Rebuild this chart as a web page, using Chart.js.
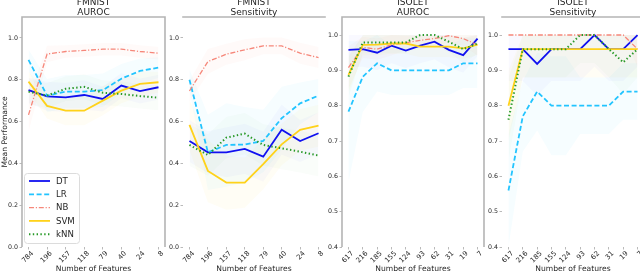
<!DOCTYPE html>
<html><head><meta charset="utf-8">
<script src="https://cdn.jsdelivr.net/npm/chart.js@4"></script>
<style>
html,body{margin:0;padding:0;background:#fff;width:640px;height:274px;overflow:hidden;position:relative}
canvas{position:absolute;top:0}
</style></head><body>
<canvas id="c1"></canvas><canvas id="c2"></canvas><canvas id="c3"></canvas><canvas id="c4"></canvas>
<script>
// ---------- data ----------
const fmnistFeatures = ['784','196','157','118','79','40','24','8'];
const isoletFeatures = ['617','216','185','155','124','93','62','31','19','7'];
const models = ['DT','LR','NB','SVM','kNN'];
const yTicksFull = [0.0,0.2,0.4,0.6,0.8,1.0];
const yTicksIsolet = [0.4,0.5,0.6,0.7,0.8,0.9,1.0];

// FMNIST AUROC (means)
const fmAurocDT  = [0.750,0.720,0.716,0.727,0.708,0.772,0.746,0.764];
const fmAurocLR  = [0.895,0.724,0.743,0.743,0.750,0.805,0.842,0.858];
const fmAurocNB  = [0.632,0.923,0.935,0.940,0.946,0.946,0.935,0.927];
const fmAurocSVM = [0.791,0.675,0.652,0.652,0.700,0.748,0.780,0.788];
const fmAurocKNN = [0.743,0.724,0.757,0.766,0.738,0.732,0.722,0.714];
// FMNIST AUROC (std)
const fmAurocDTsd  = [0.06,0.07,0.07,0.07,0.06,0.06,0.06,0.06];
const fmAurocLRsd  = [0.05,0.08,0.08,0.08,0.08,0.07,0.06,0.05];
const fmAurocNBsd  = [0.08,0.04,0.03,0.03,0.03,0.03,0.03,0.03];
const fmAurocSVMsd = [0.05,0.06,0.07,0.07,0.07,0.06,0.06,0.05];
const fmAurocKNNsd = [0.06,0.06,0.06,0.06,0.06,0.06,0.06,0.06];

// FMNIST Sensitivity (means)
const fmSensDT  = [0.507,0.453,0.453,0.469,0.432,0.561,0.507,0.544];
const fmSensLR  = [0.800,0.453,0.488,0.490,0.507,0.616,0.687,0.724];
const fmSensNB  = [0.746,0.887,0.922,0.943,0.962,0.962,0.927,0.906];
const fmSensSVM = [0.584,0.364,0.308,0.308,0.396,0.491,0.560,0.580];
const fmSensKNN = [0.488,0.440,0.523,0.542,0.488,0.472,0.456,0.437];
// FMNIST Sensitivity (std)
const fmSensDTsd  = [0.10,0.10,0.12,0.12,0.12,0.12,0.10,0.10];
const fmSensLRsd  = [0.05,0.18,0.20,0.18,0.15,0.15,0.10,0.08];
const fmSensNBsd  = [0.05,0.06,0.05,0.05,0.04,0.04,0.05,0.05];
const fmSensSVMsd = [0.12,0.15,0.13,0.12,0.12,0.10,0.10,0.10];
const fmSensKNNsd = [0.10,0.10,0.10,0.10,0.10,0.10,0.10,0.10];

// ISOLET AUROC (means)
const isAurocDT  = [0.958,0.960,0.950,0.970,0.956,0.970,0.981,0.958,0.943,0.990];
const isAurocLR  = [0.783,0.882,0.920,0.900,0.900,0.900,0.900,0.900,0.920,0.920];
const isAurocNB  = [0.908,0.965,0.960,0.972,0.978,0.985,0.990,0.998,0.990,0.972];
const isAurocSVM = [0.887,0.972,0.973,0.976,0.976,0.967,0.967,0.967,0.962,0.973];
const isAurocKNN = [0.882,0.979,0.979,0.979,0.979,1.000,1.000,0.981,0.960,0.976];
// ISOLET AUROC (std)
const isAurocDTsd  = [0.05,0.05,0.05,0.05,0.05,0.05,0.05,0.05,0.05,0.05];
const isAurocLRsd  = [0.20,0.10,0.08,0.07,0.07,0.07,0.07,0.07,0.07,0.07];
const isAurocNBsd  = [0.06,0.03,0.03,0.03,0.02,0.02,0.02,0.02,0.02,0.03];
const isAurocSVMsd = [0.05,0.03,0.03,0.03,0.03,0.03,0.03,0.03,0.03,0.03];
const isAurocKNNsd = [0.06,0.03,0.03,0.03,0.03,0.03,0.03,0.03,0.04,0.03];

// ISOLET Sensitivity (means)
const isSensDT  = [0.960,0.960,0.918,0.960,0.960,0.960,1.000,0.960,0.960,1.000];
const isSensLR  = [0.560,0.770,0.840,0.800,0.800,0.800,0.800,0.800,0.840,0.840];
const isSensNB  = [1.000,1.000,1.000,1.000,1.000,1.000,1.000,1.000,1.000,0.960];
const isSensSVM = [0.800,0.960,0.960,0.960,0.960,0.960,0.960,0.960,0.960,0.960];
const isSensKNN = [0.760,0.960,0.960,0.960,0.960,1.000,1.000,0.960,0.923,0.960];
// ISOLET Sensitivity (std)
const isSensDTsd  = [0.09,0.09,0.09,0.09,0.09,0.09,0.09,0.09,0.09,0.09];
const isSensLRsd  = [0.16,0.10,0.11,0.14,0.14,0.08,0.08,0.08,0.08,0.08];
const isSensNBsd  = [0.00,0.00,0.00,0.00,0.00,0.00,0.00,0.00,0.00,0.05];
const isSensSVMsd = [0.10,0.08,0.08,0.08,0.08,0.08,0.08,0.08,0.08,0.08];
const isSensKNNsd = [0.12,0.08,0.08,0.08,0.08,0.08,0.08,0.08,0.09,0.08];

// ---------- styles ----------
const STYLE = [
  {color:'#1010f0', band:'rgba(16,16,240,0.025)',  dash:[],            width:1.8},
  {color:'#22c4ff', band:'rgba(34,196,255,0.04)', dash:[5,2.6],       width:1.8},
  {color:'#f6877a', band:'rgba(246,135,122,0.045)',dash:[5,1.8,1.2,1.8],width:1.3},
  {color:'#ffd21a', band:'rgba(255,210,26,0.045)', dash:[],            width:1.8},
  {color:'#279927', band:'rgba(39,153,39,0.025)',  dash:[1.4,2.4],     width:2.0}
];
const FONT = '"DejaVu Sans", "Liberation Sans", sans-serif';
const TXT = '#262626';

function buildDatasets(means, stds, cap) {
  const ds = [];
  models.forEach((m, k) => {
    ds.push({label: m + ' lo', band: true, data: means[k].map((v, i) => ({x: i, y: v - stds[k][i]})),
      borderColor: 'rgba(0,0,0,0)', borderWidth: 0, pointRadius: 0, fill: false, order: 20});
    ds.push({label: m + ' hi', band: true, data: means[k].map((v, i) => ({x: i, y: Math.min(cap, v + stds[k][i])})),
      borderColor: 'rgba(0,0,0,0)', borderWidth: 0, pointRadius: 0, fill: '-1', backgroundColor: STYLE[k].band, order: 20});
  });
  models.forEach((m, k) => {
    ds.push({label: m, data: means[k].map((v, i) => ({x: i, y: v})),
      borderColor: STYLE[k].color, borderDash: STYLE[k].dash, borderWidth: STYLE[k].width,
      borderCapStyle: 'butt', pointRadius: 0, fill: false, tension: 0, order: 10 - k});
  });
  return ds;
}

const decor = {
  id: 'decor',
  afterDraw(chart, args, o) {
    const {ctx, chartArea: a} = chart;
    ctx.save();
    ctx.strokeStyle = '#b4b4b4'; ctx.lineWidth = 1.6;
    ctx.beginPath();
    if (o.top)   { ctx.moveTo(a.left - 0.8, a.top); ctx.lineTo(a.right + 0.8, a.top); }
    if (o.left)  { ctx.moveTo(a.left, a.top); ctx.lineTo(a.left, a.bottom); }
    if (o.right) { ctx.moveTo(a.right, a.top); ctx.lineTo(a.right, a.bottom); }
    ctx.stroke();
    ctx.fillStyle = TXT; ctx.font = '9px ' + FONT; ctx.textAlign = 'center'; ctx.textBaseline = 'middle';
    const cx = (a.left + a.right) / 2;
    ctx.fillText(o.title[0], cx, a.top - 14.5);
    ctx.fillText(o.title[1], cx, a.top - 4);
    if (o.legend) {
      const x0 = a.left + 2, y0 = a.bottom - 74, w = 55, h = 70;
      ctx.fillStyle = 'rgba(255,255,255,0.85)'; ctx.strokeStyle = '#dcdcdc'; ctx.lineWidth = 1;
      ctx.beginPath(); ctx.roundRect(x0 + 0.5, y0 + 0.5, w, h, 3); ctx.fill(); ctx.stroke();
      const items = chart.data.datasets.filter(d => !d.band);
      items.forEach((d, i) => {
        const y = y0 + 8 + i * 13.3;
        ctx.strokeStyle = d.borderColor; ctx.lineWidth = d.borderWidth; ctx.setLineDash(d.borderDash);
        ctx.beginPath(); ctx.moveTo(x0 + 5, y); ctx.lineTo(x0 + 26, y); ctx.stroke();
        ctx.setLineDash([]);
        ctx.fillStyle = TXT; ctx.font = '8.6px ' + FONT; ctx.textAlign = 'left'; ctx.textBaseline = 'middle';
        ctx.fillText(d.label, x0 + 32, y + 0.5);
      });
    }
    ctx.restore();
  }
};

function makePanel(id, left, yw, plotW, cats, means, stds, cap, yMin, yMax, yTicks, cfg) {
  const cv = document.getElementById(id);
  const rp = 4;
  cv.width = yw + plotW + rp; cv.height = 274;
  cv.style.left = (left - yw) + 'px';
  const n = cats.length;
  const pad = (n - 1) * 0.05;
  return new Chart(cv, {
    type: 'line',
    data: {datasets: buildDatasets(means, stds, cap)},
    options: {
      responsive: false, animation: false, devicePixelRatio: 1,
      layout: {padding: {top: 17, right: rp, left: 0, bottom: 0}, autoPadding: false},
      plugins: {legend: {display: false}, tooltip: {enabled: false}, title: {display: false}, decor: cfg},
      scales: {
        x: {type: 'linear', min: -pad, max: n - 1 + pad,
          afterBuildTicks: s => { s.ticks = cats.map((_, i) => ({value: i})); },
          afterFit: s => { s.height = 27; },
          ticks: {autoSkip: false, minRotation: 45, maxRotation: 45, padding: 0, labelOffset: 4,
            color: TXT, font: {size: 6.9, family: FONT}, callback: v => cats[v]},
          grid: {display: true, drawOnChartArea: false, drawTicks: true, tickLength: 2.5, color: '#a8a8a8', lineWidth: 0.8},
          border: {display: false},
          title: {display: true, text: 'Number of Features', color: TXT, font: {size: 7.6, family: FONT}, padding: {top: 0, bottom: 0}}
        },
        y: {type: 'linear', min: yMin, max: yMax,
          afterBuildTicks: s => { s.ticks = yTicks.map(v => ({value: v})); },
          afterFit: s => { s.width = yw; },
          ticks: {padding: 1.5, color: TXT, font: {size: 6.3, family: FONT}, callback: v => v.toFixed(1)},
          grid: {display: true, drawOnChartArea: false, drawTicks: true, tickLength: 2.5, color: '#a8a8a8', lineWidth: 0.8},
          border: {display: false},
          title: {display: !!cfg.ylabel, text: cfg.ylabel || '', color: TXT, font: {size: 7.6, family: FONT}, padding: {top: 0, bottom: 0}}
        }
      }
    },
    plugins: [decor]
  });
}

makePanel('c1', 22, 22, 143, fmnistFeatures,
  [fmAurocDT, fmAurocLR, fmAurocNB, fmAurocSVM, fmAurocKNN],
  [fmAurocDTsd, fmAurocLRsd, fmAurocNBsd, fmAurocSVMsd, fmAurocKNNsd], 1.5,
  0, 1.1, yTicksFull, {title: ['FMNIST', 'AUROC'], top: true, left: true, right: true, legend: true, ylabel: 'Mean Performance'});
makePanel('c2', 183, 20, 142, fmnistFeatures,
  [fmSensDT, fmSensLR, fmSensNB, fmSensSVM, fmSensKNN],
  [fmSensDTsd, fmSensLRsd, fmSensNBsd, fmSensSVMsd, fmSensKNNsd], 1.5,
  0, 1.1, yTicksFull, {title: ['FMNIST', 'Sensitivity'], top: true});
makePanel('c3', 342, 20, 142, isoletFeatures,
  [isAurocDT, isAurocLR, isAurocNB, isAurocSVM, isAurocKNN],
  [isAurocDTsd, isAurocLRsd, isAurocNBsd, isAurocSVMsd, isAurocKNNsd], 1.0,
  0.4, 1.051, yTicksIsolet, {title: ['ISOLET', 'AUROC'], top: true, left: true, right: true});
makePanel('c4', 502, 20, 142, isoletFeatures,
  [isSensDT, isSensLR, isSensNB, isSensSVM, isSensKNN],
  [isSensDTsd, isSensLRsd, isSensNBsd, isSensSVMsd, isSensKNNsd], 1.0,
  0.4, 1.051, yTicksIsolet, {title: ['ISOLET', 'Sensitivity'], top: true});
</script>
</body></html>
